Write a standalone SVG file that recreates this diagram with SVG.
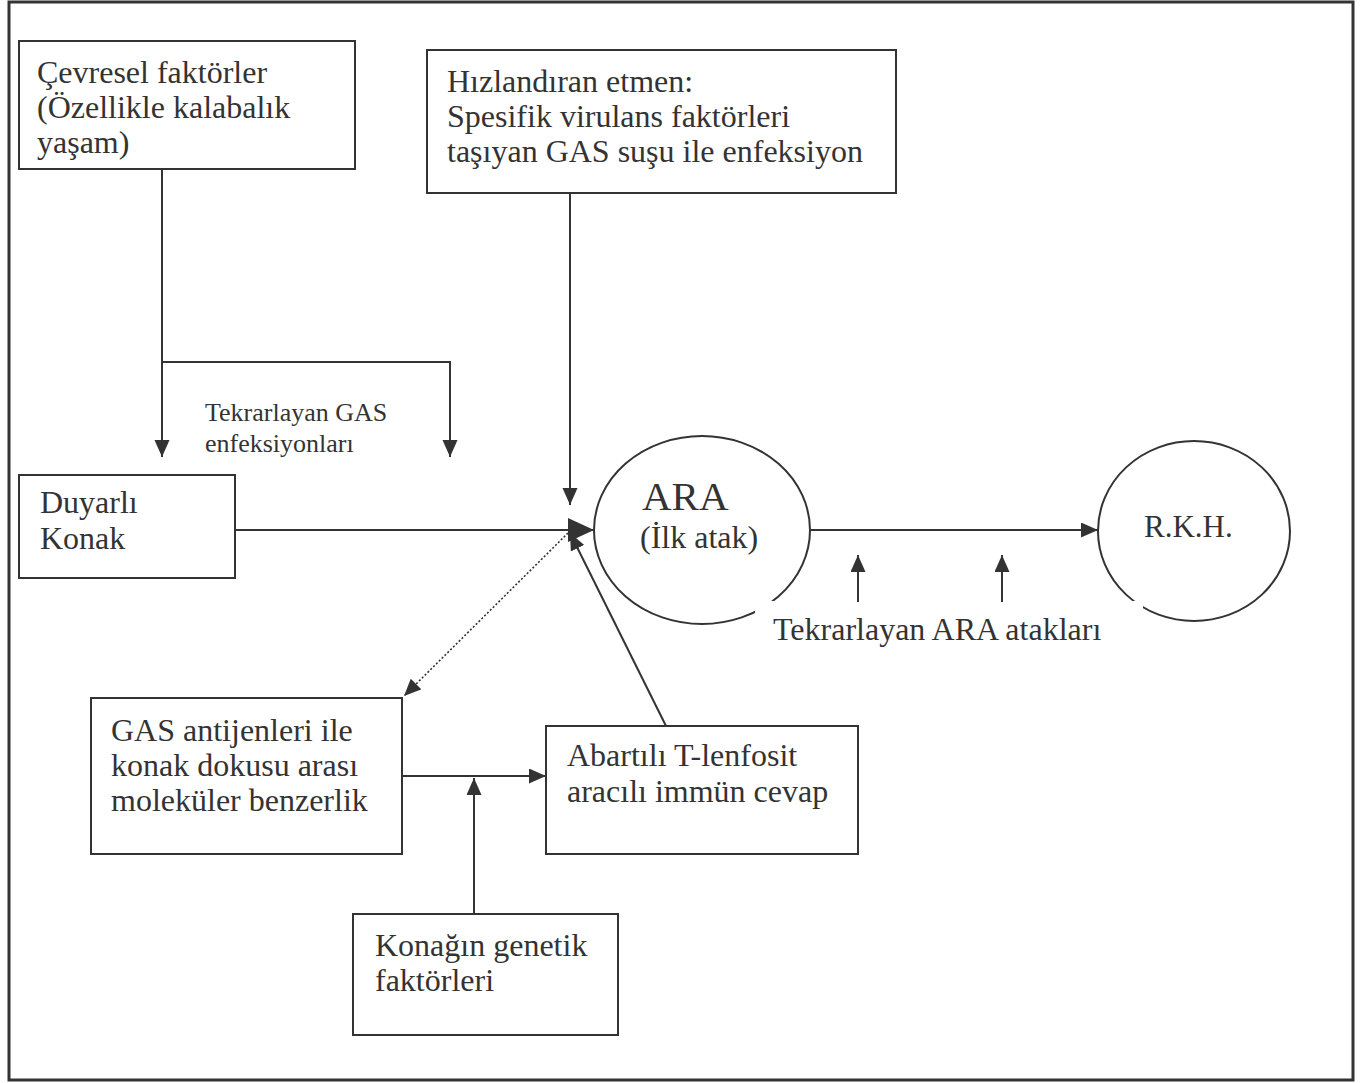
<svg xmlns="http://www.w3.org/2000/svg" width="1368" height="1083" viewBox="0 0 1368 1083">
<style>
.box{fill:#fff;stroke:#333;stroke-width:2}
.ln{fill:none;stroke:#333;stroke-width:2}
.dot{fill:none;stroke:#333;stroke-width:1.6;stroke-dasharray:2,2}
text{font-family:"Liberation Serif","Times New Roman",serif;fill:#333;font-size:32px}
text.sm{font-size:26px}
text.lg{font-size:41px}
text.rk{font-size:31px}
</style>
<defs>
<marker id="ah" markerUnits="userSpaceOnUse" markerWidth="17" markerHeight="16" refX="17" refY="7.5" orient="auto"><path d="M0,0 L17,7.5 L0,15 z" fill="#333"/></marker>
<marker id="big" markerUnits="userSpaceOnUse" markerWidth="26" markerHeight="26" refX="26" refY="12" orient="auto"><path d="M0,0 L26,12 L0,24 z" fill="#333"/></marker>
</defs>
<rect x="0" y="0" width="1368" height="1083" fill="#fff"/>
<rect x="9" y="2" width="1344" height="1078" fill="none" stroke="#333" stroke-width="3"/>
<g id="ellipses">
<ellipse id="ara-shape" cx="702" cy="530" rx="108" ry="94" fill="none" stroke="#333" stroke-width="2"/>
<ellipse id="rkh-shape" cx="1194" cy="531" rx="96" ry="90" fill="none" stroke="#333" stroke-width="2"/>
<rect x="755" y="601" width="388" height="50" fill="#fff"/>
</g>
<g id="connectors">
<path class="ln" d="M162,169 V457" marker-end="url(#ah)"/>
<path class="ln" d="M162,362 H450 V457" marker-end="url(#ah)"/>
<path class="ln" d="M570,193 V505" marker-end="url(#ah)"/>
<path class="ln" d="M235,530 H594" marker-end="url(#big)"/>
<path class="ln" d="M666,726 L570,533" marker-end="url(#ah)"/>
<path class="dot" d="M568,533 L404,696" marker-end="url(#ah)"/>
<path class="ln" d="M402,776 H546" marker-end="url(#ah)"/>
<path class="ln" d="M474,914 V778" marker-end="url(#ah)"/>
<path class="ln" d="M810,530 H1098" marker-end="url(#ah)"/>
<path class="ln" d="M858,602 V555" marker-end="url(#ah)"/>
<path class="ln" d="M1002,602 V555" marker-end="url(#ah)"/>
</g>
<g id="cevresel">
<rect class="box" x="19" y="41" width="336" height="128"/>
<text x="37" y="83">Çevresel faktörler</text>
<text x="37" y="118">(Özellikle kalabalık</text>
<text x="37" y="153">yaşam)</text>
</g>
<g id="hizlandiran">
<rect class="box" x="427" y="50" width="469" height="143"/>
<text x="447" y="92">Hızlandıran etmen:</text>
<text x="447" y="127">Spesifik virulans faktörleri</text>
<text x="447" y="162">taşıyan GAS suşu ile enfeksiyon</text>
</g>
<g id="tekrar-gas">
<text class="sm" x="205" y="421">Tekrarlayan GAS</text>
<text class="sm" x="205" y="452">enfeksiyonları</text>
</g>
<g id="duyarli">
<rect class="box" x="19" y="475" width="216" height="103"/>
<text x="40" y="513">Duyarlı</text>
<text x="40" y="549">Konak</text>
</g>
<g id="ara">
<text class="lg" x="642" y="510">ARA</text>
<text x="640" y="548">(İlk atak)</text>
</g>
<g id="rkh">
<text class="rk" x="1144" y="537">R.K.H.</text>
</g>
<g id="tekrar-ara">
<text x="773" y="640">Tekrarlayan ARA atakları</text>
</g>
<g id="gas-antijen">
<rect class="box" x="91" y="698" width="311" height="156"/>
<text x="111" y="741">GAS antijenleri ile</text>
<text x="111" y="776">konak dokusu arası</text>
<text x="111" y="811">moleküler benzerlik</text>
</g>
<g id="abartili">
<rect class="box" x="546" y="726" width="312" height="128"/>
<text x="567" y="766">Abartılı T-lenfosit</text>
<text x="567" y="802">aracılı immün cevap</text>
</g>
<g id="konagin">
<rect class="box" x="353" y="914" width="265" height="121"/>
<text x="375" y="956">Konağın genetik</text>
<text x="375" y="991">faktörleri</text>
</g>
</svg>
